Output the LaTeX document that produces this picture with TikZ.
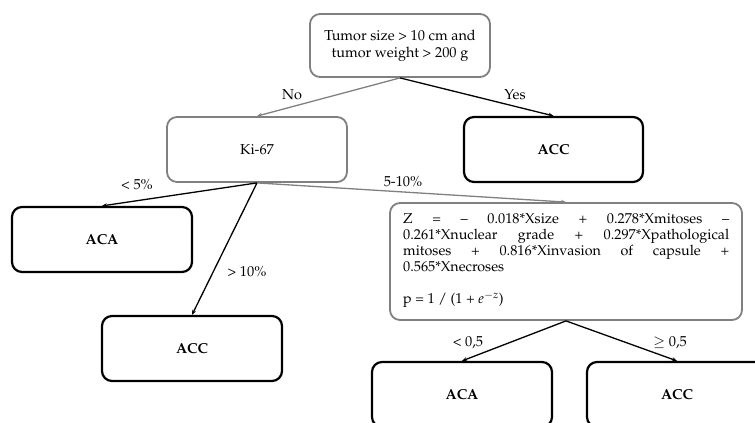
\documentclass[tikz,border=0pt]{standalone}
\usepackage[T1]{fontenc}
\usepackage{mathpazo}
\usetikzlibrary{arrows.meta}
\definecolor{boxgray}{RGB}{128,128,128}
\begin{document}
\begin{tikzpicture}[x=1pt,y=-1pt,
  box/.style={rounded corners=10pt, minimum width=180pt, minimum height=65pt, inner sep=0pt, align=center, font=\fontsize{14.4}{17}\selectfont},
  graybox/.style={box, draw=boxgray, line width=1.8pt},
  blackbox/.style={box, draw=black, line width=2.2pt, font=\fontsize{14.4}{17}\selectfont\bfseries},
  conn/.style={line width=1.3pt, -{Stealth[length=5pt,width=4pt]}},
  grayconn/.style={conn, draw=boxgray},
  fline/.style={anchor=base west, inner sep=0pt, font=\fontsize{14.3}{15.9}\selectfont},
  lbl/.style={font=\fontsize{14.4}{16}\selectfont, inner sep=0pt}]
\useasboundingbox (0,0) rectangle (755,423);
\node[graybox, minimum height=63pt] (top) at (400,45.5) {Tumor size > 10 cm and\\tumor weight > 200 g};
\node[graybox] (ki) at (257,149.5) {Ki-67};
\node[blackbox, minimum width=179pt] (accR) at (553.5,149.5) {ACC};
\node[blackbox] (acaL) at (102,239.5) {ACA};
\node[blackbox] (accM) at (192,348.5) {ACC};
\node[graybox, minimum width=352pt, minimum height=117pt] (form) at (566,261.5) {};
\node[fline] (f1) at (403,223.5) {\makebox[326pt][s]{Z = -- 0.018*Xsize + 0.278*Xmitoses --}};
\node[fline] (f2) at (403,239.4) {\makebox[326pt][s]{0.261*Xnuclear grade + 0.297*Xpathological}};
\node[fline] (f3) at (403,255.3) {\makebox[326pt][s]{mitoses + 0.816*Xinvasion of capsule +}};
\node[fline] (f4) at (403,271.2) {0.565*Xnecroses};
\node[fline] (f5) at (403,303.5) {p = 1 / (1 + $e^{-z}$)};
\node[blackbox] (acaB) at (462,394.5) {ACA};
\node[blackbox] (accB) at (677,394.5) {ACC};
\draw[grayconn] (top.south) -- (ki.north);
\draw[conn] (top.south) -- (accR.north);
\draw[conn] (ki.south) -- (acaL.north);
\draw[conn] (ki.south) -- (accM.north);
\draw[grayconn] (ki.south) -- (form.north);
\draw[conn] (form.south) -- (acaB.north);
\draw[conn] (form.south) -- (accB.north);
\node[lbl] (lno) at (292,95) {No};
\node[lbl] (lyes) at (515,95) {Yes};
\node[lbl] (llt) at (137,185) {< 5\%};
\node[lbl] (lgt) at (247,272) {> 10\%};
\node[lbl] (lmid) at (403,182) {5-10\%};
\node[lbl] (lp1) at (468,343) {< 0,5};
\node[lbl] (lp2) at (670,343) {$\geq$ 0,5};
\end{tikzpicture}
\end{document}
